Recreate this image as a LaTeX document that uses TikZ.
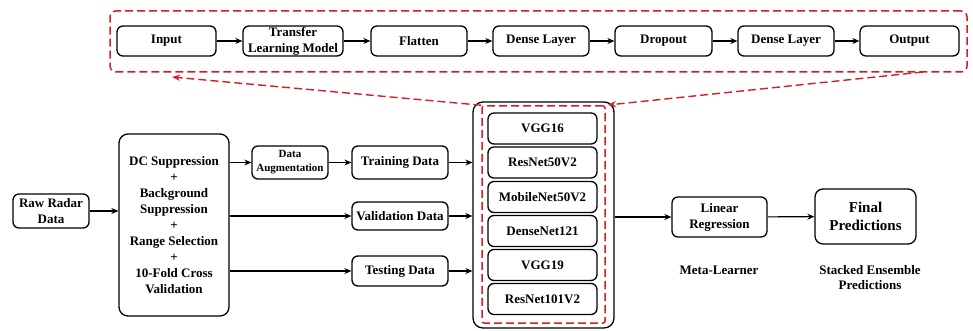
\documentclass[tikz,border=0pt]{standalone}
\usepackage{fontspec}
\setmainfont{Liberation Serif}
\usetikzlibrary{arrows.meta}
\definecolor{dashred}{RGB}{214,28,36}
\begin{document}
\begin{tikzpicture}[x=1pt,y=-1pt,
  box/.style={draw=black,line width=1.3pt,rounded corners=6pt,align=center,
    inner sep=0pt,font=\fontsize{13}{16}\selectfont\bfseries},
  flow/.style={line width=1.1pt,-{Stealth[length=7pt,width=6pt]}},
  reddash/.style={draw=dashred,line width=1.5pt,dash pattern=on 8pt off 4pt},
  lbl/.style={align=center,inner sep=0pt,font=\fontsize{13}{15}\selectfont\bfseries}
]
\useasboundingbox (0,0) rectangle (973,331);

% ---- detail of one base learner (top row) ----
\node[reddash,rounded corners=6pt,minimum width=857pt,minimum height=61pt] (topbox) at (538.5,41.5) {};
\node[box,minimum width=99pt,minimum height=30pt] (in) at (166.5,41) {Input};
\node[box,minimum width=100pt,minimum height=30pt] (tl) at (293,41) {Transfer\\Learning Model};
\node[box,minimum width=96pt,minimum height=30pt] (fl) at (419,41) {Flatten};
\node[box,minimum width=96pt,minimum height=30pt] (d1) at (541,41) {Dense Layer};
\node[box,minimum width=97pt,minimum height=30pt] (dr) at (663.5,41) {Dropout};
\node[box,minimum width=96pt,minimum height=30pt] (d2) at (786,41) {Dense Layer};
\node[box,minimum width=99pt,minimum height=30pt] (out) at (909.5,41) {Output};
\foreach \a/\b in {in/tl,tl/fl,fl/d1,d1/dr,dr/d2,d2/out}
  \draw[flow] (\a) -- (\b);

% ---- preprocessing ----
\node[box,minimum width=76pt,minimum height=34pt] (raw) at (51,211) {Raw Radar\\Data};
\node[box,rounded corners=9pt,minimum width=110pt,minimum height=182pt] (dc) at (174,225)
  {DC Suppression\\+\\Background\\Suppression\\+\\Range Selection\\+\\10-Fold Cross\\Validation};
\node[box,minimum width=76pt,minimum height=33pt,font=\fontsize{11}{14}\selectfont\bfseries] (aug) at (290,162.5) {Data\\Augmentation};
\node[box,minimum width=96pt,minimum height=33pt] (train) at (400,162.5) {Training Data};
\node[box,minimum width=96pt,minimum height=28pt] (val) at (400,216) {Validation Data};
\node[box,minimum width=96pt,minimum height=30pt] (test) at (400,271) {Testing Data};

% ---- base learners ----
\node[draw=black,line width=1.3pt,rounded corners=10pt,minimum width=141pt,minimum height=226pt] (ens) at (543.5,215) {};
\node[reddash,rounded corners=2pt,minimum width=123pt,minimum height=217pt] (ensin) at (543.5,214.5) {};
\node[box,minimum width=109pt,minimum height=31pt] (m1) at (542.5,128.5) {VGG16};
\node[box,minimum width=109pt,minimum height=31pt] (m2) at (542.5,162.5) {ResNet50V2};
\node[box,minimum width=109pt,minimum height=31pt] (m3) at (542.5,197) {MobileNet50V2};
\node[box,minimum width=109pt,minimum height=31pt] (m4) at (542.5,231) {DenseNet121};
\node[box,minimum width=109pt,minimum height=31pt] (m5) at (542.5,265) {VGG19};
\node[box,minimum width=109pt,minimum height=31pt] (m6) at (542.5,299) {ResNet101V2};

% ---- meta-learner and output ----
\node[box,minimum width=95pt,minimum height=40pt] (lr) at (719.5,217) {Linear\\Regression};
\node[box,rounded corners=8pt,minimum width=101pt,minimum height=55pt,font=\fontsize{15}{18}\selectfont\bfseries] (fin) at (865.5,216.5) {Final\\Predictions};
\node[lbl] (ml) at (719,270) {Meta-Learner};
\node[lbl] (se) at (870,277.5) {Stacked Ensemble\\Predictions};

% ---- connectors ----
\draw[flow] (raw) -- (raw -| dc.west);
\draw[flow] (dc.east |- aug) -- (aug);
\draw[flow] (aug) -- (train);
\draw[flow] (dc.east |- val) -- (val);
\draw[flow] (dc.east |- test) -- (test);
\draw[flow] (train) -- (train -| ens.west);
\draw[flow] (val) -- (val -| ens.west);
\draw[flow] (test) -- (test -| ens.west);
\draw[flow] (ens.east |- lr) -- (lr);
\draw[flow] (lr) -- (fin);

% ---- dashed zoom links ----
\coordinate (zl) at (172,77);
\coordinate (zr) at (923,72);
\coordinate (er) at (608,105);
\draw[reddash,line width=1.4pt,-{Stealth[length=8pt,width=6pt,fill=dashred]}] (ensin.north west) -- (zl);
\draw[reddash,line width=1.4pt,-{Stealth[length=8pt,width=6pt,fill=dashred]}] (zr) -- (er);
\end{tikzpicture}
\end{document}
